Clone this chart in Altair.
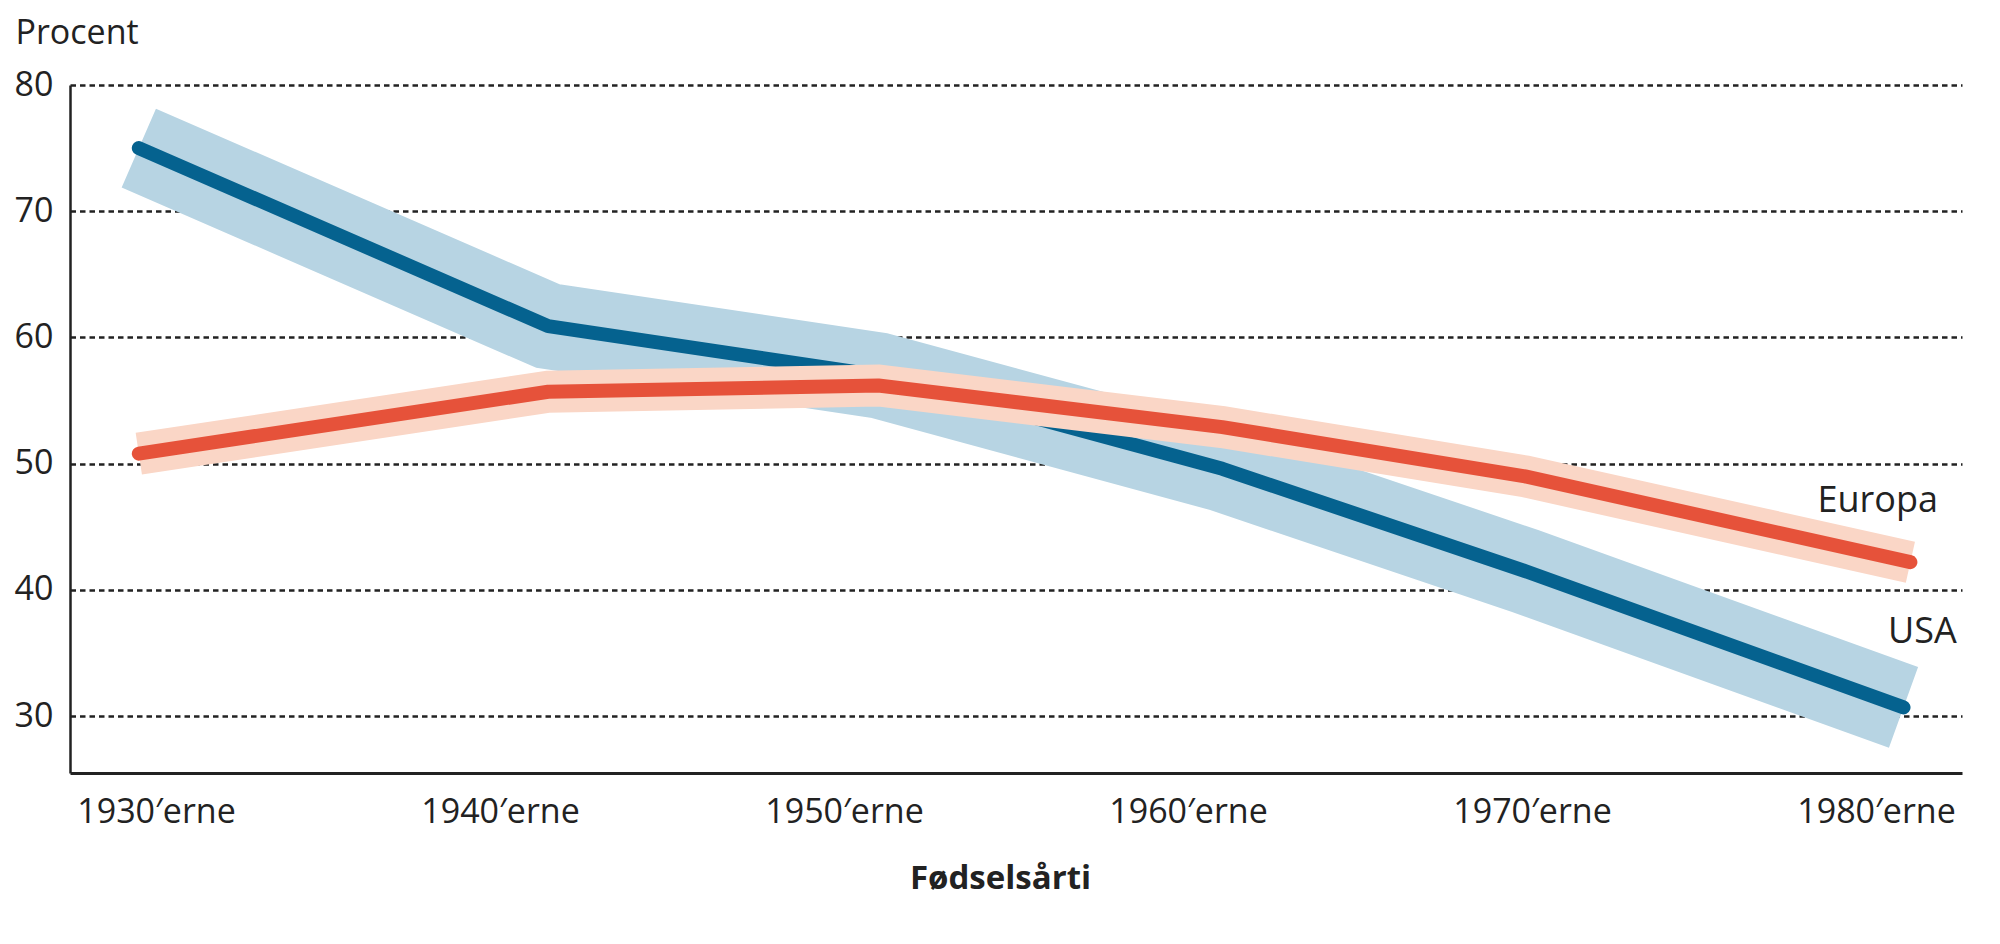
import altair as alt
import pandas as pd

# ---- data ----
decades = [1930, 1940, 1950, 1960, 1970, 1980]
tick_suffix = "′erne"

usa_x = [1929.5, 1941.4, 1951.0, 1961.0, 1969.8, 1980.8]
usa_y = [75.0, 60.9, 57.0, 49.6, 41.5, 30.7]

eur_x = [1929.5, 1941.4, 1951.0, 1961.0, 1969.8, 1981.0]
eur_y = [50.8, 55.7, 56.2, 52.9, 49.0, 42.2]

series_labels = ["Europa", "USA"]
label_x = [1978.3, 1980.35]
label_y = [46.2, 35.8]

y_ticks = [30, 40, 50, 60, 70, 80]

FONT = "Open Sans"
INK = "#222222"

usa = pd.DataFrame({"x": usa_x, "y": usa_y})
eur = pd.DataFrame({"x": eur_x, "y": eur_y})
lab = pd.DataFrame({"x": label_x, "y": label_y, "t": series_labels})

X = alt.X(
    "x:Q",
    scale=alt.Scale(domain=[1927.5, 1982.5], nice=False, zero=False),
    axis=alt.Axis(
        values=decades,
        labelExpr="datum.value + '" + tick_suffix + "'",
        title="Fødselsårti",
        titleFont=FONT,
        titleFontSize=33,
        titleFontWeight="bold",
        titleColor=INK,
        titleBaseline="alphabetic",
        titleY=115,
        titleX=930,
        titleAlign="center",
        labelFont=FONT,
        labelFontSize=34,
        labelColor=INK,
        labelBaseline="alphabetic",
        labelPadding=49,
        labelFlush=False,
        labelOverlap=False,
        ticks=False,
        tickSize=0,
        grid=False,
        domainColor=INK,
        domainWidth=3,
    ),
)

Y = alt.Y(
    "y:Q",
    scale=alt.Scale(domain=[25.5, 80], nice=False, zero=False),
    axis=alt.Axis(
        values=y_ticks,
        title="Procent",
        titleFont=FONT,
        titleFontSize=34,
        titleFontWeight="normal",
        titleColor=INK,
        titleAngle=0,
        titleAlign="left",
        titleBaseline="alphabetic",
        titleX=-55,
        titleY=-42,
        labelFont=FONT,
        labelFontSize=34,
        labelColor=INK,
        labelPadding=17,
        labelFlush=False,
        ticks=False,
        tickSize=0,
        grid=True,
        gridColor=INK,
        gridDash=[5.5, 4],
        gridWidth=2.5,
        domainColor=INK,
        domainWidth=2.5,
    ),
)


def line_layer(df, color, width, cap, join):
    return (
        alt.Chart(df)
        .mark_line(color=color, strokeWidth=width, strokeCap=cap, strokeJoin=join)
        .encode(x=X, y=Y, order="x:Q")
    )


usa_band = line_layer(usa, "#b7d4e3", 86, "butt", "miter")
usa_line = line_layer(usa, "#05628f", 14, "round", "round")
eur_band = line_layer(eur, "#fad6c6", 42, "butt", "miter")
eur_line = line_layer(eur, "#e6523a", 14, "round", "round")

texts = (
    alt.Chart(lab)
    .mark_text(align="left", baseline="alphabetic", font=FONT, fontSize=36, color=INK)
    .encode(x=X, y=Y, text="t:N")
)

chart = (
    alt.layer(usa_band, usa_line, eur_band, eur_line, texts)
    .properties(
        width=1892,
        height=688,
        autosize=alt.AutoSizeParams(type="none"),
        padding={"left": 62, "top": 77, "right": 30, "bottom": 140},
        background="white",
    )
    .configure_view(stroke=None)
)

chart.save("out.html", embed_options={"renderer": "svg", "actions": False})
